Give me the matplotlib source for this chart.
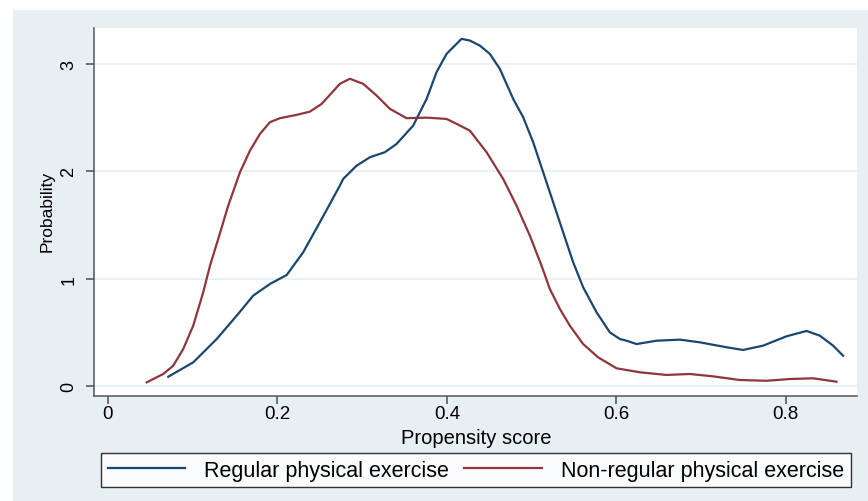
import matplotlib.pyplot as plt
from matplotlib.patches import Rectangle

# kernel density of propensity score
regular_x = [0.0712, 0.1007, 0.1283, 0.1519, 0.1714, 0.1912, 0.2109, 0.2304,
             0.2501, 0.2737, 0.2776, 0.2935, 0.3091, 0.3268, 0.3406, 0.3602,
             0.3761, 0.3878, 0.3996, 0.4173, 0.4271, 0.4389, 0.4507, 0.4625,
             0.4782, 0.4900, 0.5018, 0.5136, 0.5254, 0.5372, 0.5490, 0.5608,
             0.5766, 0.5923, 0.6041, 0.6120, 0.6238, 0.6474, 0.6749, 0.6985,
             0.7300, 0.7496, 0.7732, 0.8008, 0.8244, 0.8401, 0.8558, 0.8676]
regular_y = [0.087, 0.221, 0.438, 0.655, 0.842, 0.951, 1.034, 1.246,
             1.526, 1.867, 1.929, 2.053, 2.131, 2.178, 2.255, 2.426,
             2.675, 2.924, 3.094, 3.234, 3.218, 3.171, 3.094, 2.954,
             2.675, 2.504, 2.271, 1.992, 1.712, 1.432, 1.153, 0.920,
             0.687, 0.500, 0.438, 0.422, 0.391, 0.422, 0.432, 0.407,
             0.361, 0.336, 0.376, 0.463, 0.513, 0.469, 0.376, 0.282]

nonreg_x = [0.0457, 0.0652, 0.0770, 0.0888, 0.1006, 0.1124, 0.1204, 0.1301,
            0.1419, 0.1558, 0.1676, 0.1794, 0.1912, 0.2029, 0.2227, 0.2383,
            0.2522, 0.2737, 0.2855, 0.3012, 0.3170, 0.3327, 0.3524, 0.3760,
            0.3996, 0.4114, 0.4271, 0.4468, 0.4664, 0.4822, 0.4979, 0.5117,
            0.5215, 0.5333, 0.5451, 0.5608, 0.5785, 0.6002, 0.6277, 0.6592,
            0.6867, 0.7142, 0.7457, 0.7772, 0.8044, 0.8322, 0.8598]
nonreg_y = [0.034, 0.112, 0.189, 0.345, 0.562, 0.873, 1.121, 1.370,
            1.680, 1.992, 2.193, 2.349, 2.458, 2.495, 2.526, 2.556,
            2.628, 2.815, 2.862, 2.815, 2.706, 2.582, 2.495, 2.500,
            2.488, 2.442, 2.379, 2.178, 1.929, 1.680, 1.401, 1.121,
            0.904, 0.718, 0.562, 0.391, 0.267, 0.165, 0.128, 0.103,
            0.112, 0.090, 0.056, 0.049, 0.065, 0.072, 0.040]

x_ticks = [0, 0.2, 0.4, 0.6, 0.8]
x_tick_labels = ['0', '0.2', '0.4', '0.6', '0.8']
y_ticks = [0, 1, 2, 3]
labels = ['Regular physical exercise', 'Non-regular physical exercise']

plt.rcParams['font.family'] = ['Liberation Sans', 'DejaVu Sans']

W, H = 868, 502
fig = plt.figure(figsize=(W / 100, H / 100), dpi=100)
fig.patch.set_facecolor('white')
fig.patches.append(Rectangle((13 / W, 0), 1, (H - 11) / H, transform=fig.transFigure,
                             facecolor='#e8eff2', edgecolor='none', zorder=-10))

ax = fig.add_axes([94 / W, 1 - 397 / H, (857 - 94) / W, (397 - 29) / H])
ax.set_facecolor('white')

l1, = ax.plot(regular_x, regular_y, color='#1a476f', lw=1.6, solid_joinstyle='round')
l2, = ax.plot(nonreg_x, nonreg_y, color='#90353b', lw=1.6, solid_joinstyle='round')

ax.set_xlim(-0.0165, 0.884)
ax.set_ylim(-0.093, 3.335)
ax.set_xticks(x_ticks)
ax.set_xticklabels(x_tick_labels, fontsize=13.5)
ax.set_yticks(y_ticks)
ax.set_yticklabels([str(v) for v in y_ticks], rotation=90, va='center', fontsize=13)
ax.tick_params(axis='both', color='#4d4d4d', width=1.1, length=6)
ax.tick_params(axis='y', pad=6)
ax.tick_params(axis='x', pad=0.5)
ax.grid(axis='y', color='#e6eef1', lw=1.2)
ax.set_axisbelow(True)
for s in ['top', 'right']:
    ax.spines[s].set_visible(False)
for s in ['left', 'bottom']:
    ax.spines[s].set_color('#555555')
    ax.spines[s].set_linewidth(1.1)

fig.text(476 / W, 1 - 439 / H, 'Propensity score', ha='center', va='center', fontsize=14.5)
fig.text(47 / W, 1 - 211 / H, 'Probability', ha='center', va='center', rotation=90,
         fontsize=12.5)

leg = fig.legend([l1, l2], labels, ncol=2, loc='center',
                 bbox_to_anchor=(476 / W, 1 - 471 / H), fontsize=15.5,
                 handlelength=3.6, handletextpad=0.9, columnspacing=0.7,
                 borderpad=0.3, fancybox=False, frameon=True)
leg.get_frame().set_edgecolor('black')
leg.get_frame().set_linewidth(1.0)

fig.savefig('out.png', dpi=100)
